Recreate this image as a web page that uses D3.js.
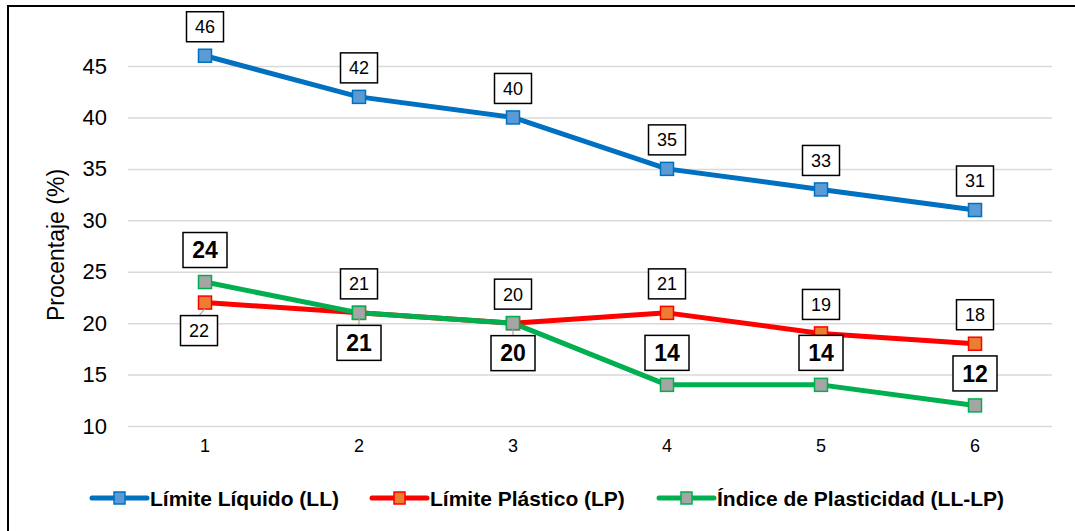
<!DOCTYPE html>
<html><head><meta charset="utf-8">
<script src="https://cdn.jsdelivr.net/npm/d3@7"></script>
<style>body{margin:0;background:#fff;}svg{display:block;font-family:Arial,"Liberation Sans",sans-serif;}</style>
</head><body><svg id="c" width="1075" height="531"></svg>
<script>
const categories = [1, 2, 3, 4, 5, 6];
const yTicks = [10, 15, 20, 25, 30, 35, 40, 45];
const llValues = [46, 42, 40, 35, 33, 31];
const lpValues = [22, 21, 20, 21, 19, 18];
const ipValues = [24, 21, 20, 14, 14, 12];
const llPlace = ["above","above","above","above","above","above"];
const lpPlace = ["belowLeft","above","above","above","above","above"];
const ipPlace = ["above","below","below","above","above","above"];
const seriesNames = ["Límite Líquido (LL)", "Límite Plástico (LP)", "Índice de Plasticidad (LL-LP)"];
const yTitle = "Procentaje (%)";

const series = [
  {name: seriesNames[0], values: llValues, place: llPlace, line: "#0070C0", fill: "#5B9BD5", stroke: "#0070C0", bold: false},
  {name: seriesNames[1], values: lpValues, place: lpPlace, line: "#FF0000", fill: "#ED7D31", stroke: "#FF0000", bold: false},
  {name: seriesNames[2], values: ipValues, place: ipPlace, line: "#00B050", fill: "#A5A5A5", stroke: "#00B050", bold: true}
];

const svg = d3.select("#c");
const x = d3.scaleBand().domain(categories).range([128, 1052]);
const y = d3.scaleLinear().domain([10, 50]).range([426, 14.6]);
const cx = d => x(d) + x.bandwidth() / 2;

// outer border
svg.append("rect").attr("x", 8).attr("y", 6).attr("width", 1100).attr("height", 600)
  .attr("fill", "none").attr("stroke", "#000").attr("stroke-width", 2);

// gridlines + y axis
const yAxis = d3.axisLeft(y).tickValues(yTicks).tickSize(-(1052 - 128)).tickPadding(21);
const gy = svg.append("g").attr("transform", "translate(128,0)").call(yAxis);
gy.select(".domain").remove();
gy.selectAll(".tick line").attr("stroke", "#D9D9D9").attr("stroke-width", 1.5);
gy.selectAll(".tick text").attr("font-size", 22).attr("fill", "#000").attr("font-family", "Arial, 'Liberation Sans', sans-serif");

const xAxis = d3.axisBottom(x).tickSize(0).tickPadding(13);
const gx = svg.append("g").attr("transform", "translate(0,426)").call(xAxis);
gx.select(".domain").remove();
gx.selectAll(".tick text").attr("font-size", 18).attr("fill", "#000").attr("font-family", "Arial, 'Liberation Sans', sans-serif");

svg.append("text").attr("transform", "translate(64,245) rotate(-90)")
  .attr("text-anchor", "middle").attr("font-size", 23).text(yTitle);

const line = d3.line().x((d, i) => cx(categories[i])).y(d => y(d));

series.forEach(s => {
  svg.append("path").datum(s.values).attr("d", line).attr("fill", "none")
    .attr("stroke", s.line).attr("stroke-width", 5).attr("stroke-linejoin", "round");
});
series.forEach(s => {
  svg.append("g").selectAll("rect").data(s.values).join("rect")
    .attr("x", (d, i) => cx(categories[i]) - 6.5).attr("y", d => y(d) - 6.5)
    .attr("width", 13).attr("height", 13)
    .attr("fill", s.fill).attr("stroke", s.stroke).attr("stroke-width", 1.5);
});

// data labels
const labelG = svg.append("g");
series.forEach(s => {
  s.values.forEach((v, i) => {
    const px = cx(categories[i]), py = y(v);
    const fs = s.bold ? 23 : 18;
    const h = s.bold ? 35 : 30;
    const w = s.bold ? 44 : 37;
    let bx = px, by;
    const p = s.place[i];
    if (p === "above") by = py - (s.bold ? 32 : 29);
    else if (p === "below") by = py + (s.bold ? 30 : 29);
    else { bx = px - 6; by = py + 28; }
    if (p !== "above") {
      labelG.append("line").attr("x1", px).attr("y1", py + 6).attr("x2", bx).attr("y2", by - h / 2)
        .attr("stroke", "#A6A6A6").attr("stroke-width", 1.2);
    }
    labelG.append("rect").attr("x", bx - w / 2).attr("y", by - h / 2).attr("width", w).attr("height", h)
      .attr("fill", "#fff").attr("stroke", "#000").attr("stroke-width", 1.5);
    labelG.append("text").attr("x", bx).attr("y", by).attr("dy", "0.36em")
      .attr("text-anchor", "middle").attr("font-size", fs).attr("font-weight", s.bold ? "bold" : "normal")
      .text(v);
  });
});

// legend
const legendX = [92, 372, 659];
series.forEach((s, i) => {
  const g = svg.append("g").attr("transform", `translate(${legendX[i]},498)`);
  g.append("line").attr("x1", 0).attr("x2", 55).attr("y1", 0).attr("y2", 0)
    .attr("stroke", s.line).attr("stroke-width", 5).attr("stroke-linecap", "round");
  g.append("rect").attr("x", 22).attr("y", -6).attr("width", 11).attr("height", 12)
    .attr("fill", s.fill).attr("stroke", s.stroke).attr("stroke-width", 1.5);
  g.append("text").attr("x", 58).attr("y", 0).attr("dy", "0.36em").attr("font-size", 21)
    .attr("font-weight", "bold").text(s.name);
});
</script></body></html>
